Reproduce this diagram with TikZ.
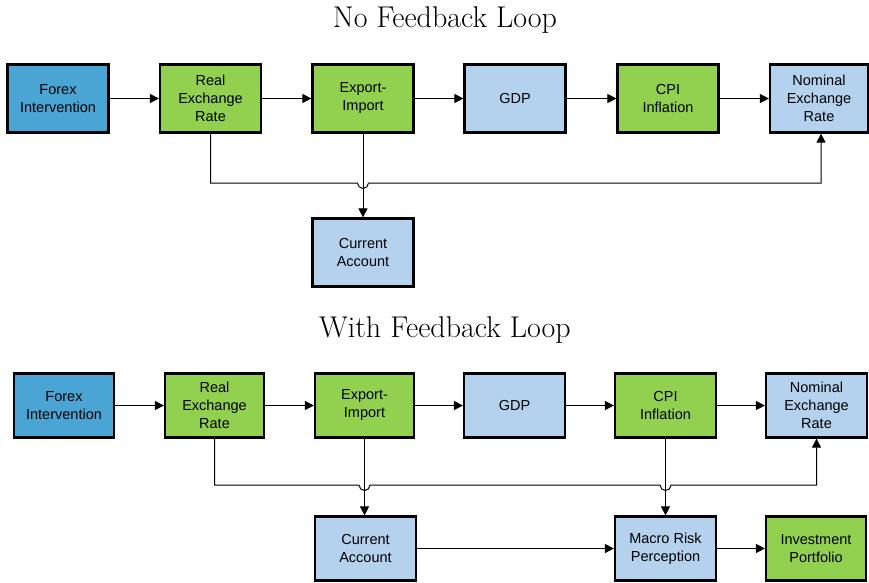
\documentclass[tikz,border=0pt]{standalone}
\usepackage{fontspec}
\newfontfamily\boxfont{Liberation Sans}
\usetikzlibrary{arrows.meta}
\definecolor{dblue}{HTML}{4BA5D4}
\definecolor{lgreen}{HTML}{92D050}
\definecolor{lblue}{HTML}{B4D2EE}
\tikzset{
  box/.style={draw=black, line width=2.2pt, minimum width=101pt, minimum height=68pt,
    align=center, inner sep=2pt, font=\boxfont\fontsize{14.5pt}{18pt}\selectfont},
  sbox/.style={box, minimum height=64pt},
  conn/.style={line width=1pt, draw=black},
  arr/.style={conn, -{Triangle[length=9pt,width=9pt]}},
  ttl/.style={font=\fontsize{30pt}{34pt}\selectfont}
}
\begin{document}
\begin{tikzpicture}[x=1pt,y=-1pt]
\useasboundingbox (0,0) rectangle (869,582);
\fill[white] (0,0) rectangle (869,582);
% ---------- top ----------
\node[ttl] (t1) at (445,20) {No Feedback Loop};
\node[box, fill=dblue] (f1) at (58,98.5) {Forex\\Intervention};
\node[box, fill=lgreen] (r1) at (210.5,98.5) {Real\\Exchange\\Rate};
\node[box, fill=lgreen] (e1) at (363,98.5) {Export-\\Import};
\node[box, fill=lblue] (g1) at (515,98.5) {GDP};
\node[box, fill=lgreen] (c1) at (668,98.5) {CPI\\Inflation};
\node[box, fill=lblue, minimum width=98pt] (n1) at (819,98.5) {Nominal\\Exchange\\Rate};
\node[box, fill=lblue] (ca1) at (363,252.5) {Current\\Account};
\draw[arr] (f1) -- (r1);
\draw[arr] (r1) -- (e1);
\draw[arr] (e1) -- (g1);
\draw[arr] (g1) -- (c1);
\draw[arr] (c1) -- (n1);
\coordinate (h1a) at (210.5,183);
\coordinate (h1b) at (821,183);
\draw[arr] (r1.south) -- (h1a) -- (357.5,183) arc[start angle=180,end angle=0,radius=5.5] -- (h1b) -- (h1b |- n1.south);
\draw[arr] (e1.south) -- (ca1.north);
% ---------- bottom ----------
\node[ttl] (t2) at (445,330) {With Feedback Loop};
\node[sbox, fill=dblue, minimum width=100pt] (f2) at (64,405.5) {Forex\\Intervention};
\node[sbox, fill=lgreen, minimum width=99pt] (r2) at (214.5,405.5) {Real\\Exchange\\Rate};
\node[sbox, fill=lgreen, minimum width=99pt] (e2) at (364.5,405.5) {Export-\\Import};
\node[sbox, fill=lblue] (g2) at (514.5,405.5) {GDP};
\node[sbox, fill=lgreen] (c2) at (665.5,405.5) {CPI\\Inflation};
\node[sbox, fill=lblue] (n2) at (816.5,405.5) {Nominal\\Exchange\\Rate};
\node[sbox, fill=lblue] (ca2) at (365.5,548.5) {Current\\Account};
\node[sbox, fill=lblue] (m2) at (665.5,548.5) {Macro Risk\\Perception};
\node[sbox, fill=lgreen, minimum width=100pt] (i2) at (816,548.5) {Investment\\Portfolio};
\draw[arr] (f2) -- (r2);
\draw[arr] (r2) -- (e2);
\draw[arr] (e2) -- (g2);
\draw[arr] (g2) -- (c2);
\draw[arr] (c2) -- (n2);
\coordinate (h2a) at (214.5,485);
\coordinate (h2b) at (816.5,485);
\draw[arr] (r2.south) -- (h2a) -- (359,485) arc[start angle=180,end angle=0,radius=5.5]
  -- (660,485) arc[start angle=180,end angle=0,radius=5.5] -- (h2b) -- (n2.south);
\draw[arr] (e2.south) -- (e2.south |- ca2.north);
\draw[arr] (c2.south) -- (m2.north);
\draw[arr] (ca2) -- (m2);
\draw[arr] (m2) -- (i2);
\end{tikzpicture}
\end{document}
